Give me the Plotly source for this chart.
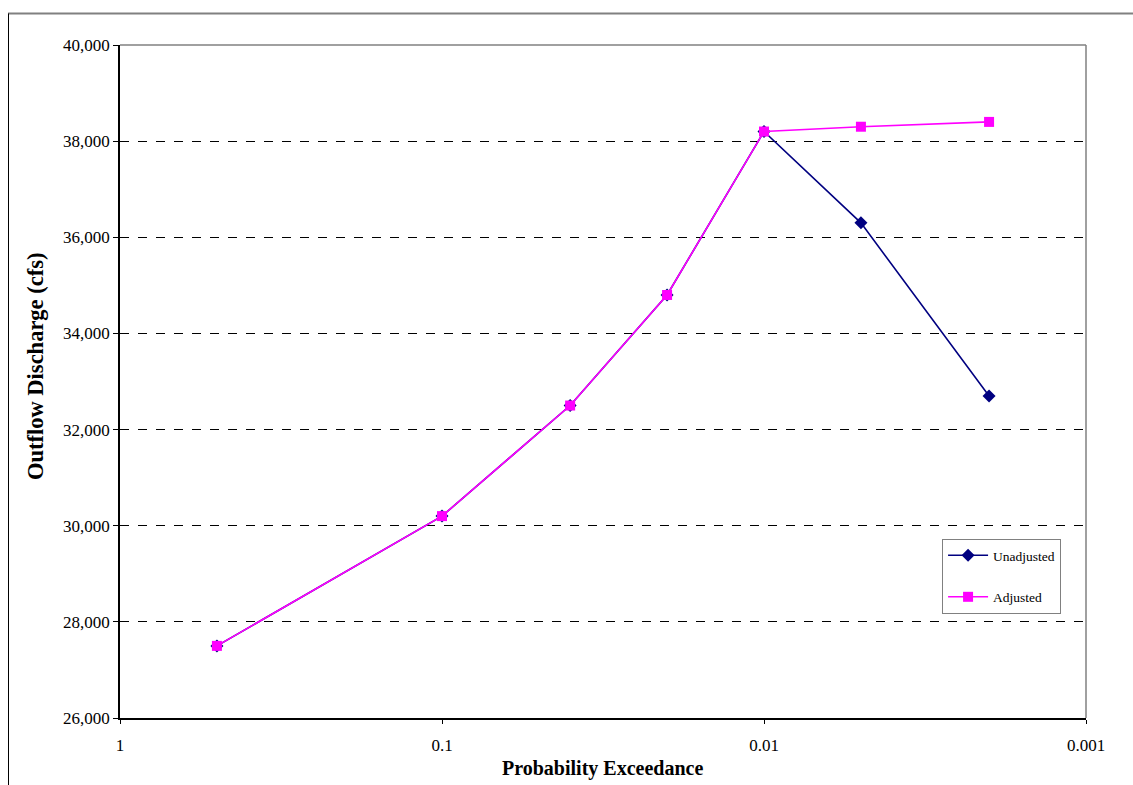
import plotly.graph_objects as go

prob = [0.5, 0.1, 0.04, 0.02, 0.01, 0.005, 0.002]
unadjusted = [27500, 30200, 32500, 34800, 38200, 36300, 32700]
adjusted = [27500, 30200, 32500, 34800, 38200, 38300, 38400]
x_ticks = [1, 0.1, 0.01, 0.001]
x_tick_text = ["1", "0.1", "0.01", "0.001"]
x_title = "Probability Exceedance"
y_title = "Outflow Discharge (cfs)"

font_family = "Liberation Serif, Times New Roman, serif"

fig = go.Figure()
fig.add_trace(go.Scatter(
    x=prob, y=unadjusted, name="Unadjusted", mode="lines+markers",
    line=dict(color="#000080", width=1.6),
    marker=dict(symbol="diamond", size=10, color="#000080"),
    legendgroup="u",
))
fig.add_trace(go.Scatter(
    x=prob, y=adjusted, name="Adjusted", mode="lines+markers",
    line=dict(color="#FF00FF", width=1.6),
    marker=dict(symbol="square", size=10, color="#FF00FF"),
    legendgroup="a",
))

fig.update_layout(
    width=1133, height=785,
    margin=dict(l=120, r=47, t=45, b=67),
    paper_bgcolor="white", plot_bgcolor="white",
    font=dict(family=font_family, color="black", size=17),
    showlegend=True,
    legend=dict(
        x=0.851, y=0.266, xanchor="left", yanchor="top",
        bordercolor="#808080", borderwidth=1, bgcolor="white",
        font=dict(size=13.5, family=font_family),
        tracegroupgap=21, itemwidth=40, entrywidth=112,
    ),
    xaxis=dict(
        type="log", range=[0, -3], automargin=False,
        tickvals=x_ticks, ticktext=x_tick_text,
        showgrid=False, zeroline=False,
        showline=True, linecolor="black", linewidth=1.5,
        ticks="outside", ticklen=4, tickcolor="black",
        ticklabelstandoff=7,
        tickfont=dict(size=17, family=font_family),
    ),
    yaxis=dict(
        range=[26000, 40000], dtick=2000, tickformat=",", automargin=False,
        showgrid=True, gridcolor="black", griddash="dash", gridwidth=1,
        zeroline=False,
        showline=True, linecolor="black", linewidth=1.5,
        ticks="outside", ticklen=5, tickcolor="black",
        tickfont=dict(size=17, family=font_family),
    ),
)

fig.add_annotation(text="<b>" + x_title + "</b>", xref="paper", yref="paper",
                   x=(602 - 120) / 966, y=(718 - 768) / 673,
                   xanchor="center", yanchor="middle", showarrow=False,
                   font=dict(size=20, family=font_family, color="black"))
fig.add_annotation(text="<b>" + y_title + "</b>", xref="paper", yref="paper",
                   x=(35 - 120) / 966, y=(718 - 367) / 673, textangle=-90,
                   xanchor="center", yanchor="middle", showarrow=False,
                   font=dict(size=22.5, family=font_family, color="black"))

# plot area top and right borders (gray)
fig.add_shape(type="line", xref="paper", yref="paper", x0=0, x1=1, y0=1, y1=1,
              line=dict(color="#808080", width=1.5))
fig.add_shape(type="line", xref="paper", yref="paper", x0=1, x1=1, y0=0, y1=1,
              line=dict(color="#808080", width=1.5))
# outer chart frame (top gray, left black)
fig.add_shape(type="line", xref="paper", yref="paper",
              x0=(8 - 120) / 966, x1=(1133 - 120) / 966,
              y0=(718 - 13.5) / 673, y1=(718 - 13.5) / 673,
              line=dict(color="#808080", width=2))
fig.add_shape(type="line", xref="paper", yref="paper",
              x0=(8.5 - 120) / 966, x1=(8.5 - 120) / 966,
              y0=(718 - 13.5) / 673, y1=(718 - 785) / 673,
              line=dict(color="black", width=1))

fig.write_html("out.html", config={"displayModeBar": False},
               post_script="document.body.style.margin='0';document.body.style.padding='0';")
